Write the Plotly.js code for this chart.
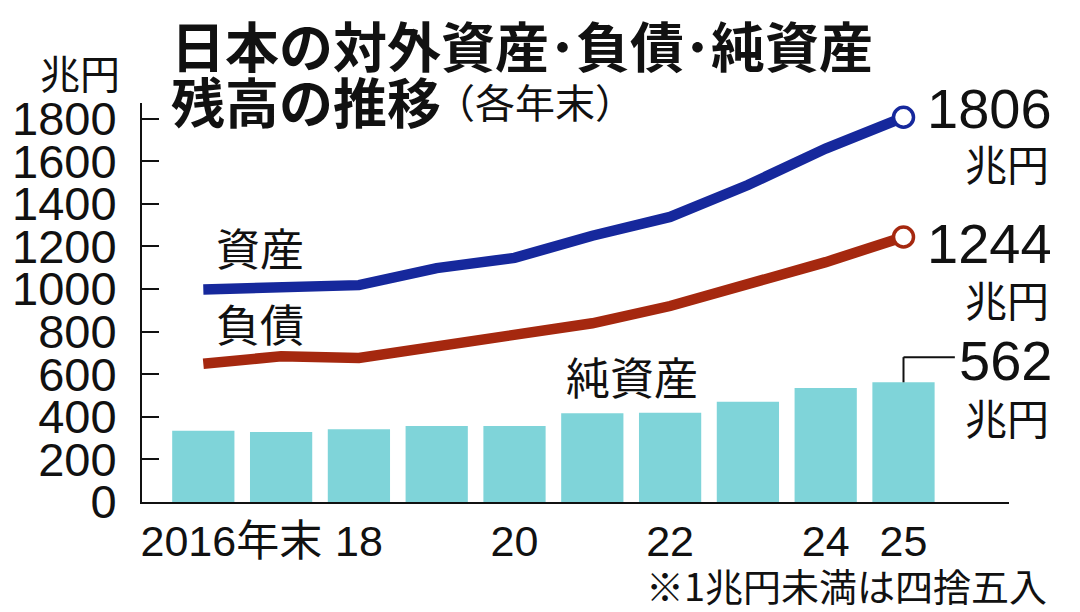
<!DOCTYPE html>
<html>
<head>
<meta charset="utf-8">
<script src="https://cdn.plot.ly/plotly-3.0.1.min.js"></script>
<style>html,body{margin:0;padding:0;background:#fff;}#chart{width:1080px;height:612px;}</style>
</head>
<body>
<div id="chart"></div>
<script>
// ---- data (兆円, 各年末) ----
const years = [2016, 2017, 2018, 2019, 2020, 2021, 2022, 2023, 2024, 2025];
const assets = [998, 1012, 1018, 1098, 1146, 1250, 1338, 1488, 1659, 1806];
const liabilities = [649, 684, 676, 733, 789, 839, 920, 1017, 1126, 1244];
const netAssets = [334, 329, 341, 357, 357, 417, 419, 471, 535, 562];
const yTickVals = [0, 200, 400, 600, 800, 1000, 1200, 1400, 1600, 1800];
const xTickVals = [2016.36, 2018, 2020, 2022, 2024, 2025];
const xTickText = ['2016年末', '18', '20', '22', '24', '25'];

// ---- layout helpers ----
const M = {l: 142, r: 71, t: 103, b: 110};
const W = 1080 - M.l - M.r, H = 612 - M.t - M.b;
const px = x => (x - M.l) / W;
const py = y => (612 - M.b - y) / H;

const JP = '"Noto Sans CJK JP", sans-serif';
const NUM = '"Liberation Sans", "Noto Sans CJK JP", sans-serif';
const BLUE = '#16289c';
const RED = '#a5280f';
const TEAL = '#7fd4d9';
const last = years.length - 1;

const traces = [
  {type: 'bar', x: years, y: netAssets, width: 0.8, marker: {color: TEAL}, hoverinfo: 'skip'},
  {type: 'scatter', mode: 'lines', x: years, y: assets, line: {color: BLUE, width: 10.5}, hoverinfo: 'skip'},
  {type: 'scatter', mode: 'lines', x: years, y: liabilities, line: {color: RED, width: 10.5}, hoverinfo: 'skip'},
  {type: 'scatter', mode: 'markers', x: [years[last]], y: [assets[last]],
   marker: {size: 20, color: '#fff', line: {color: BLUE, width: 3.5}}, hoverinfo: 'skip'},
  {type: 'scatter', mode: 'markers', x: [years[last]], y: [liabilities[last]],
   marker: {size: 20, color: '#fff', line: {color: RED, width: 3.5}}, hoverinfo: 'skip'}
];

function txt(text, x, y, size, opts) {
  return Object.assign({text: text, x: px(x), y: py(y), xref: 'paper', yref: 'paper',
    xanchor: 'left', yanchor: 'middle', showarrow: false, borderpad: 0,
    font: {family: JP, size: size, color: '#111'}}, opts || {});
}

const annotations = [
  txt('<b>日本の対外資産･負債･純資産</b>', 170, 45, 54),
  txt('<b>残高の推移</b>', 170, 101, 54),
  txt('（各年末）', 434, 101, 40),
  txt('兆円', 80, 72, 40, {xanchor: 'center'}),
  txt('資産', 260, 247, 44, {xanchor: 'center'}),
  txt('負債', 260, 323, 44, {xanchor: 'center'}),
  txt('純資産', 632, 376, 44, {xanchor: 'center'}),
  {text: String(assets[last]), x: px(1053), xref: 'paper', y: assets[last], yref: 'y',
   yshift: 9, xanchor: 'right', yanchor: 'middle', showarrow: false, borderpad: 0,
   font: {family: NUM, size: 56, color: '#111'}},
  {text: String(liabilities[last]), x: px(1053), xref: 'paper', y: liabilities[last], yref: 'y',
   yshift: -7, xanchor: 'right', yanchor: 'middle', showarrow: false, borderpad: 0,
   font: {family: NUM, size: 56, color: '#111'}},
  {text: String(netAssets[last]), x: px(1053), xref: 'paper', y: netAssets[last], yref: 'y',
   yshift: 22, xanchor: 'right', yanchor: 'middle', showarrow: false, borderpad: 0,
   font: {family: NUM, size: 56, color: '#111'}},
  txt('兆円', 1050, 162, 42, {xanchor: 'right'}),
  txt('兆円', 1050, 298, 42, {xanchor: 'right'}),
  txt('兆円', 1050, 416, 42, {xanchor: 'right'}),
  txt('※1兆円未満は四捨五入', 1048, 584, 38, {xanchor: 'right'})
];

const shapes = [
  {type: 'line', xref: 'x', yref: 'y', x0: years[last], x1: years[last],
   y0: netAssets[last], y1: netAssets[last] + 118, line: {color: '#111', width: 2}},
  {type: 'line', xref: 'x', yref: 'y', x0: years[last], x1: years[last] + 0.66,
   y0: netAssets[last] + 118, y1: netAssets[last] + 118, line: {color: '#111', width: 2}}
];

const layout = {
  width: 1080, height: 612,
  margin: M,
  paper_bgcolor: '#fff', plot_bgcolor: '#fff',
  showlegend: false,
  xaxis: {
    range: [2015.212, 2026.356], tickmode: 'array', tickvals: xTickVals, ticktext: xTickText,
    showline: true, linecolor: '#111', linewidth: 2, ticks: '', showgrid: false, zeroline: false,
    tickfont: {family: NUM, size: 43, color: '#111'}, ticklabelstandoff: 0, fixedrange: true
  },
  yaxis: {
    range: [0, 1873], tickmode: 'array', tickvals: yTickVals,
    showline: true, linecolor: '#111', linewidth: 2,
    ticks: 'inside', ticklen: 17, tickwidth: 2, tickcolor: '#111',
    showgrid: false, zeroline: false,
    tickfont: {family: NUM, size: 47, color: '#111'}, ticklabelstandoff: 14, fixedrange: true
  },
  annotations: annotations,
  shapes: shapes
};

Plotly.newPlot('chart', traces, layout, {staticPlot: true, displayModeBar: false});
</script>
</body>
</html>
